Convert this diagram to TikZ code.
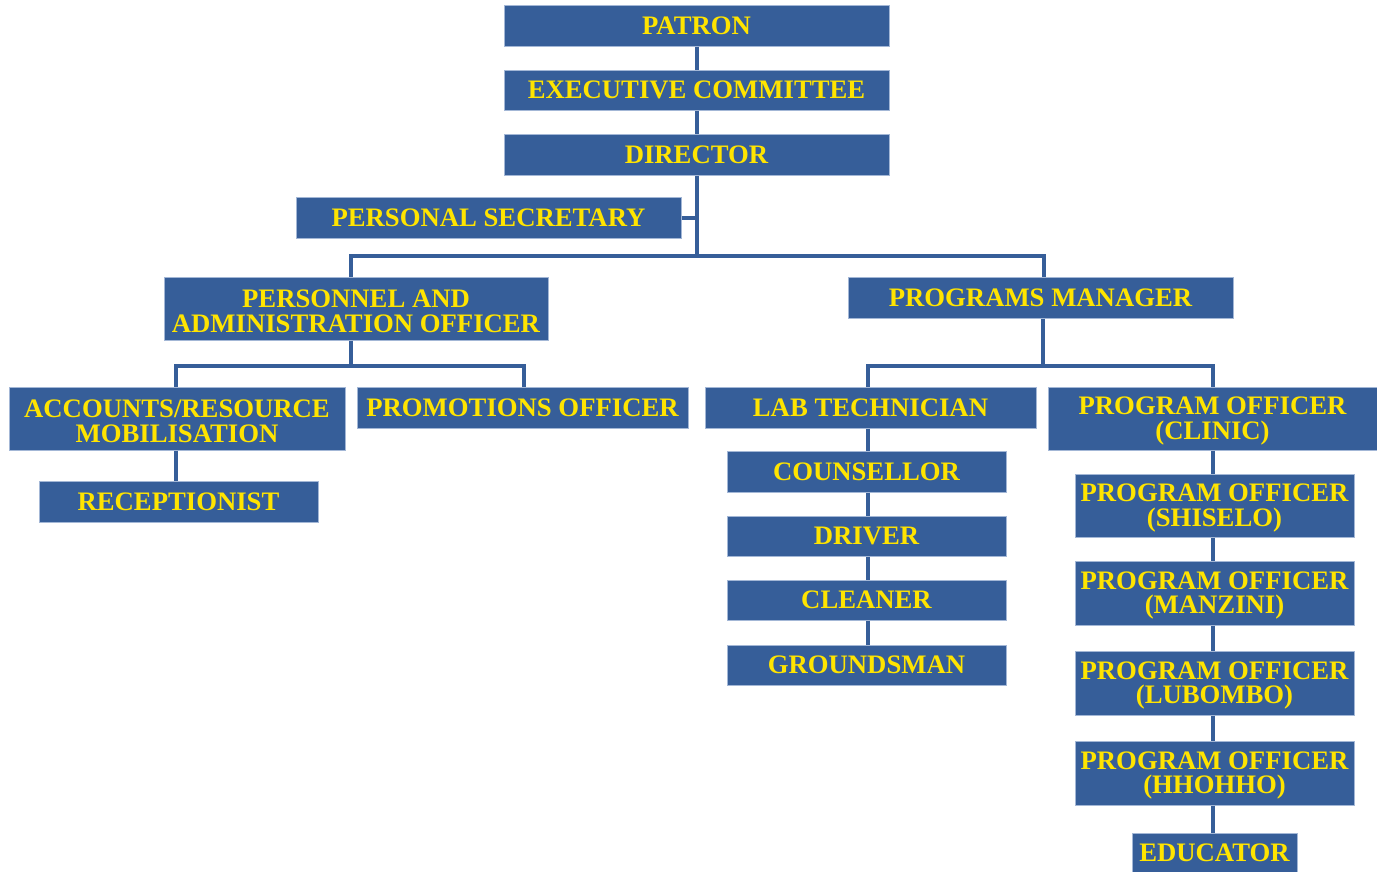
\documentclass[tikz,border=0pt]{standalone}
\usepackage{fontspec}
\setmainfont{Liberation Serif}
\definecolor{boxblue}{HTML}{365E99}
\definecolor{edgeblue}{HTML}{A3B7D6}
\definecolor{txtyellow}{HTML}{FFE400}
\newcommand{\lowr}{\rule{0pt}{23pt}}
\begin{document}
\begin{tikzpicture}[x=1pt,y=-1pt,
  orgbox/.style={rectangle, fill=boxblue, draw=edgeblue, line width=1pt,
    text=txtyellow, font=\bfseries\fontsize{26.7}{24.5}\selectfont,
    align=center, inner sep=0pt, anchor=center},
  conn/.style={draw=boxblue, line width=4pt}]
\useasboundingbox (0,0) rectangle (1377,871);
% nodes
\node[orgbox, minimum width=385pt, minimum height=41pt] (patron) at (696.5,25.5) {PATRON};
\node[orgbox, minimum width=385pt, minimum height=40pt] (exec) at (696.5,90) {EXECUTIVE COMMITTEE};
\node[orgbox, minimum width=385pt, minimum height=41pt] (director) at (696.5,154.5) {DIRECTOR};
\node[orgbox, minimum width=385pt, minimum height=41pt] (secretary) at (488.5,217.5) {PERSONAL SECRETARY};
\node[orgbox, minimum width=384pt, minimum height=63pt] (personnel) at (356,308.5) {\lowr PERSONNEL AND\\ADMINISTRATION OFFICER};
\node[orgbox, minimum width=385pt, minimum height=41pt] (programs) at (1040.5,297.5) {PROGRAMS MANAGER};
\node[orgbox, minimum width=336pt, minimum height=63pt] (accounts) at (177,418.5) {\lowr ACCOUNTS/RESOURCE\\MOBILISATION};
\node[orgbox, minimum width=331pt, minimum height=41pt] (promotions) at (522.5,407.5) {PROMOTIONS OFFICER};
\node[orgbox, minimum width=331pt, minimum height=41pt] (lab) at (870.5,407.5) {LAB TECHNICIAN};
\node[orgbox, minimum width=329pt, minimum height=63pt] (clinic) at (1212.5,418.5) {\lowr PROGRAM OFFICER\\(CLINIC)};
\node[orgbox, minimum width=279pt, minimum height=41pt] (receptionist) at (178.5,501.5) {RECEPTIONIST};
\node[orgbox, minimum width=279pt, minimum height=41pt] (counsellor) at (866.5,471.5) {COUNSELLOR};
\node[orgbox, minimum width=279pt, minimum height=40pt] (driver) at (866.5,536) {DRIVER};
\node[orgbox, minimum width=279pt, minimum height=40pt] (cleaner) at (866.5,600) {CLEANER};
\node[orgbox, minimum width=279pt, minimum height=40pt] (groundsman) at (866.5,665) {GROUNDSMAN};
\node[orgbox, minimum width=279pt, minimum height=63pt] (shiselo) at (1214.5,505.5) {\lowr PROGRAM OFFICER\\(SHISELO)};
\node[orgbox, minimum width=279pt, minimum height=64pt] (manzini) at (1214.5,593) {\lowr PROGRAM OFFICER\\(MANZINI)};
\node[orgbox, minimum width=279pt, minimum height=64pt] (lubombo) at (1214.5,683) {\lowr PROGRAM OFFICER\\(LUBOMBO)};
\node[orgbox, minimum width=279pt, minimum height=64pt] (hhohho) at (1214.5,773) {\lowr PROGRAM OFFICER\\(HHOHHO)};
\node[orgbox, minimum width=165pt, minimum height=39pt] (educator) at (1214.5,852.5) {EDUCATOR};
% junction coordinates
\coordinate (jtop) at (697,256);
\coordinate (jsec) at (697,217.5);
\coordinate (jpl) at (351,256);
\coordinate (jpr) at (1044,256);
\coordinate (jal) at (351,366);
\coordinate (jacc) at (176,366);
\coordinate (jpro) at (524,366);
\coordinate (jbl) at (1043,366);
\coordinate (jlab) at (868,366);
\coordinate (jcli) at (1213,366);
% connectors
\begin{scope}[conn]
\draw (patron.south -| jtop) -- (exec.north -| jtop);
\draw (exec.south -| jtop) -- (director.north -| jtop);
\draw (director.south -| jtop) -- (jtop);
\draw (secretary.east) -- (jsec);
\draw[line cap=rect] (jpl) -- (jpr);
\draw (jpl) -- (personnel.north -| jpl);
\draw (jpr) -- (programs.north -| jpr);
\draw (personnel.south -| jal) -- (jal);
\draw[line cap=rect] (jacc) -- (jpro);
\draw (jacc) -- (accounts.north -| jacc);
\draw (jpro) -- (promotions.north -| jpro);
\draw (accounts.south -| jacc) -- (receptionist.north -| jacc);
\draw (programs.south -| jbl) -- (jbl);
\draw[line cap=rect] (jlab) -- (jcli);
\draw (jlab) -- (lab.north -| jlab);
\draw (jcli) -- (clinic.north -| jcli);
\draw (lab.south -| jlab) -- (counsellor.north -| jlab);
\draw (counsellor.south -| jlab) -- (driver.north -| jlab);
\draw (driver.south -| jlab) -- (cleaner.north -| jlab);
\draw (cleaner.south -| jlab) -- (groundsman.north -| jlab);
\draw (clinic.south -| jcli) -- (shiselo.north -| jcli);
\draw (shiselo.south -| jcli) -- (manzini.north -| jcli);
\draw (manzini.south -| jcli) -- (lubombo.north -| jcli);
\draw (lubombo.south -| jcli) -- (hhohho.north -| jcli);
\draw (hhohho.south -| jcli) -- (educator.north -| jcli);
\end{scope}
\end{tikzpicture}
\end{document}
